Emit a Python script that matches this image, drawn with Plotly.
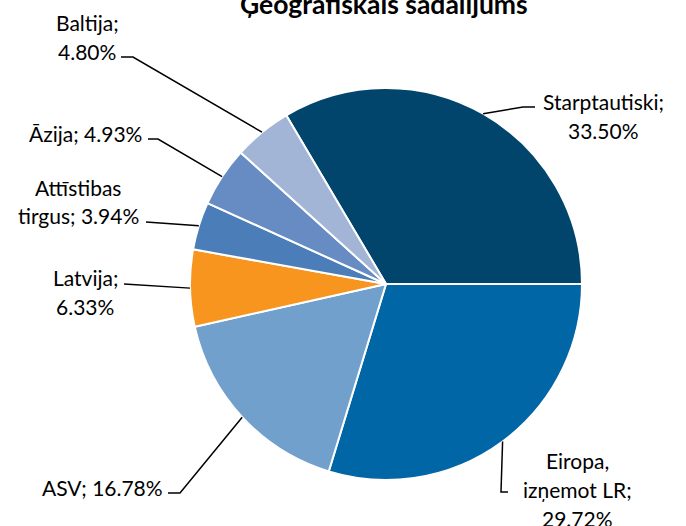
import math
import plotly.graph_objects as go

# ---- data ----
categories = ["Starptautiski", "Eiropa, izņemot LR", "ASV", "Latvija",
              "Attīstibas tirgus", "Āzija", "Baltija"]
shares = [33.50, 29.72, 16.78, 6.33, 3.94, 4.93, 4.80]
colors = ["#02456C", "#0066A6", "#72A0CC", "#F7951F", "#4B7EB9", "#668CC3", "#A3B5D7"]
title_text = "Ģeogrāfiskais sadalījums"

# ---- layout (pixels) ----
W, H = 686, 526
CX, CY, R = 386, 284, 196
ROT = -30.6
FONT = "Lato"
FS = 21
LINE_H = 29

# words per line, text centre x, first line y, leader elbow, leader end
label_layout = {
    "Starptautiski":      dict(words=[1, 1],    x=603, y=101, elbow=(523, 107), end=(535, 107)),
    "Eiropa, izņemot LR": dict(words=[1, 2, 1], x=577, y=460, elbow=(501, 492), end=(508, 492)),
    "ASV":                dict(words=[2],       x=102, y=487, elbow=(180, 493), end=(168, 493)),
    "Latvija":            dict(words=[1, 1],    x=85,  y=277, elbow=(124, 284), end=(124, 284)),
    "Attīstibas tirgus":  dict(words=[1, 2],    x=78,  y=187, elbow=(146, 222), end=(146, 222)),
    "Āzija":              dict(words=[2],       x=85,  y=133, elbow=(158, 139), end=(148, 139)),
    "Baltija":            dict(words=[1, 1],    x=87,  y=22,  elbow=(133, 57),  end=(121, 57)),
}

def px(x):
    return x / W

def py(y):
    return 1 - y / H

fig = go.Figure(go.Pie(
    labels=categories, values=shares, sort=False, direction="clockwise",
    rotation=ROT, marker=dict(colors=colors, line=dict(color="white", width=2)),
    textinfo="none", hoverinfo="label+percent", showlegend=False,
    domain=dict(x=[px(CX - R), px(CX + R)], y=[py(CY + R), py(CY - R)]),
))

annotations = []
shapes = []
total = sum(shares)
cum = 0.0
for cat, val in zip(categories, shares):
    mid = ROT + (cum + val / 2) / total * 360
    cum += val
    a = math.radians(mid)
    ex, ey = CX + R * math.sin(a), CY - R * math.cos(a)
    lay = label_layout[cat]
    (bx, by), (tx, ty) = lay["elbow"], lay["end"]
    shapes.append(dict(type="path", xref="paper", yref="paper",
                       path=f"M {px(ex)},{py(ey)} L {px(bx)},{py(by)} L {px(tx)},{py(ty)}",
                       line=dict(color="black", width=1.5)))
    words = f"{cat}; {val:.2f}%".split(" ")
    i = 0
    for k, n in enumerate(lay["words"]):
        line = " ".join(words[i:i + n])
        i += n
        annotations.append(dict(text=line, x=px(lay["x"]), y=py(lay["y"] + k * LINE_H),
                                xref="paper", yref="paper", xanchor="center", yanchor="middle",
                                showarrow=False, font=dict(family=FONT, size=FS, color="black")))

annotations.append(dict(text=f"<b>{title_text}</b>", x=px(384), y=py(4), xref="paper", yref="paper",
                        xanchor="center", yanchor="middle", showarrow=False,
                        font=dict(family=FONT, size=26.5, color="black")))

fig.update_layout(width=W, height=H, margin=dict(l=0, r=0, t=0, b=0),
                  paper_bgcolor="white", plot_bgcolor="white",
                  annotations=annotations, shapes=shapes)
fig.write_html("out.html", config={"displayModeBar": False},
               post_script="document.body.style.margin='0px';")
